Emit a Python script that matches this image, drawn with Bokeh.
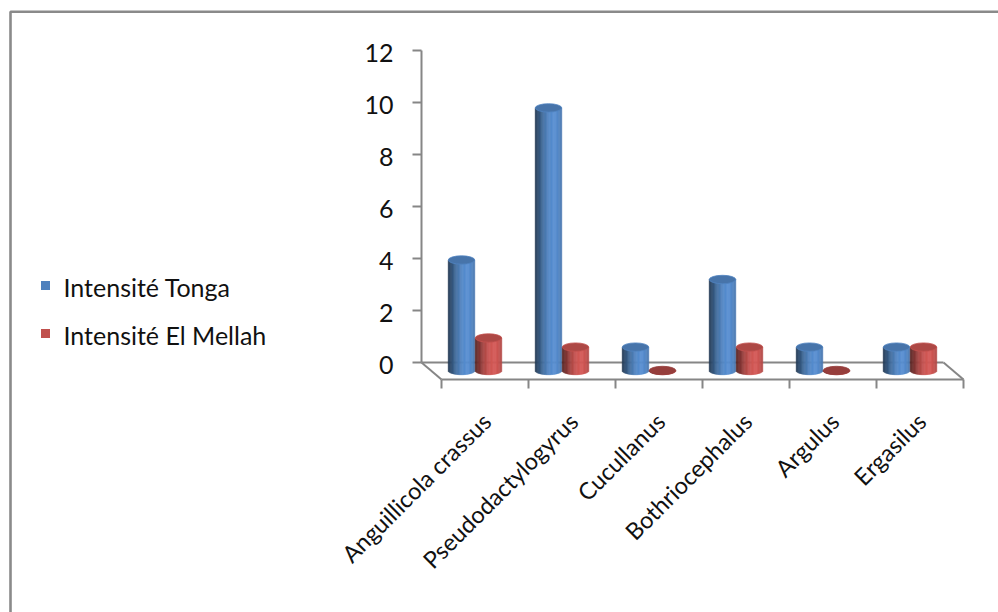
import numpy as np
from bokeh.plotting import figure
from bokeh.models import Range1d, ColumnDataSource
from bokeh.core.properties import value
from bokeh.embed import file_html
from bokeh.resources import INLINE

# ---- data -------------------------------------------------------------
categories = ["Anguillicola crassus", "Pseudodactylogyrus", "Cucullanus",
              "Bothriocephalus", "Argulus", "Ergasilus"]
tonga = [4.25, 10.1, 0.9, 3.5, 0.9, 0.9]
el_mellah = [1.25, 0.9, 0.0, 0.9, 0.0, 0.9]
series_names = ["Intensité  Tonga", "Intensité El Mellah"]
y_ticks = [0, 2, 4, 6, 8, 10, 12]

# ---- layout (screen pixels) -------------------------------------------
W, H = 998, 612
X0, Y0 = 421, 362          # back-wall origin: first category edge, value 0
SX, SY = 87, 26            # px per category, px per unit of value
DEPTH_X, DEPTH_Y = 20, 17  # floor depth (back edge -> front edge)

FONT = value("Lato")
FONT_SIZE = "25px"
CAT_FONT_SIZE = "23.5px"
TEXT_COLOR = "#111111"
AXIS_COLOR = "#868686"
BASE_COLORS = [(79, 129, 189), (192, 80, 77)]


def X(px):
    return (px - X0) / SX


def Y(py):
    return (Y0 - py) / SY


def dx(px):
    return px / SX


def dy(px):
    return px / SY


def rgb(c, f):
    r, g, b = (int(max(0, min(255, round(v * f)))) for v in c)
    return f"#{r:02x}{g:02x}{b:02x}"


p = figure(width=W, height=H,
           x_range=Range1d(X(0), X(W)), y_range=Range1d(Y(H), Y(0)),
           min_border=0, output_backend="svg", toolbar_location=None,
           x_axis_location=None, y_axis_location=None)
p.grid.visible = False
p.outline_line_color = None
p.background_fill_color = "white"
p.border_fill_color = "white"

# outer chart-area border (top and left edges)
p.line(x=[X(10), X(10), X(W)], y=[Y(H), Y(11.3), Y(11.3)],
       line_color="#8a8a8a", line_width=2.6)

# ---- floor and value axis ---------------------------------------------
n_cat = len(categories)
fx, fy = dx(DEPTH_X), -dy(DEPTH_Y)
floor_xs = [[0, n_cat], [0, fx], [fx, n_cat + fx], [n_cat, n_cat + fx]]
floor_ys = [[0, 0], [0, fy], [fy, fy], [0, fy]]
p.multi_line(xs=floor_xs, ys=floor_ys, line_color=AXIS_COLOR, line_width=2)

# category tick marks on the front edge
cat_edges = np.arange(n_cat + 1)
p.segment(x0=cat_edges + fx, y0=[fy] * (n_cat + 1),
          x1=cat_edges + fx, y1=[fy - dy(9)] * (n_cat + 1),
          line_color=AXIS_COLOR, line_width=2)

# value axis on the back wall
p.line(x=[0, 0], y=[0, max(y_ticks)], line_color=AXIS_COLOR, line_width=2)
p.segment(x0=[-dx(9)] * len(y_ticks), y0=y_ticks, x1=[0] * len(y_ticks),
          y1=y_ticks, line_color=AXIS_COLOR, line_width=2)
p.text(x=[X(393)] * len(y_ticks), y=[t - dy(2.5) for t in y_ticks],
       text=[str(t) for t in y_ticks], text_align="right",
       text_baseline="alphabetic", text_font=FONT, text_font_size=FONT_SIZE,
       text_color=TEXT_COLOR)

# ---- cylinders ----------------------------------------------------------
bar_w = dx(26.5)
half = bar_w / 2
ell_b = dy(4.2)                  # half-height of the elliptical caps
base = -dy(8)                    # columns stand at mid-depth of the floor
mid_x = dx(10)
offsets = [-dx(13.5), dx(13.5)]
n_strip = 22
edges = np.linspace(-1, 1, n_strip + 1)
u_mid = (edges[:-1] + edges[1:]) / 2
t_mid = (u_mid + 1) / 2


def shade(t):
    if t <= 0.72:
        return 0.42 + 0.68 * np.sin(np.pi / 2 * t / 0.72)
    return 1.10 - 0.18 * ((t - 0.72) / 0.28) ** 2


stripes = dict(left=[], right=[], bottom=[], top=[], color=[])
caps = dict(x=[], y=[], color=[], line=[])
for s, vals in enumerate([tonga, el_mellah]):
    for i, v in enumerate(vals):
        cx = i + 0.5 + mid_x + offsets[s]
        for k in range(n_strip):
            stripes["left"].append(cx + edges[k] * half)
            stripes["right"].append(cx + edges[k + 1] * half)
            stripes["bottom"].append(base - ell_b * np.sqrt(1 - u_mid[k] ** 2))
            stripes["top"].append(base + v)
            stripes["color"].append(rgb(BASE_COLORS[s], shade(t_mid[k])))
        caps["x"].append(cx)
        caps["y"].append(base + v)
        caps["color"].append(rgb(BASE_COLORS[s], 0.9 if v > 0 else 0.78))
        caps["line"].append(rgb(BASE_COLORS[s], 1.02 if v > 0 else 0.78))

p.quad(left="left", right="right", bottom="bottom", top="top",
       fill_color="color", line_color="color", line_width=0.6,
       source=ColumnDataSource(stripes))
p.ellipse(x="x", y="y", width=bar_w, height=2 * ell_b, fill_color="color",
          line_color="line", line_width=0.8, source=ColumnDataSource(caps))

# ---- category labels (rotated) -----------------------------------------
centers = np.arange(n_cat) + 0.5 + fx
p.text(x=centers + dx(1.6), y=[Y(416.6)] * n_cat, text=categories,
       angle=np.pi / 4, text_align="right", text_baseline="alphabetic",
       text_font=FONT, text_font_size=CAT_FONT_SIZE, text_color=TEXT_COLOR)

# ---- legend -------------------------------------------------------------
legend_rows = [285, 333]
p.rect(x=[X(45)] * 2, y=[Y(r) for r in legend_rows], width=9, height=9,
       width_units="screen", height_units="screen",
       fill_color=[rgb(c, 1.0) for c in BASE_COLORS], line_color=None)
p.text(x=[X(63)] * 2, y=[Y(r + 1) for r in legend_rows], text=series_names,
       text_align="left", text_baseline="alphabetic", text_font=FONT,
       text_font_size=FONT_SIZE, text_color=TEXT_COLOR)

open("out.html", "w").write(file_html(p, INLINE))
